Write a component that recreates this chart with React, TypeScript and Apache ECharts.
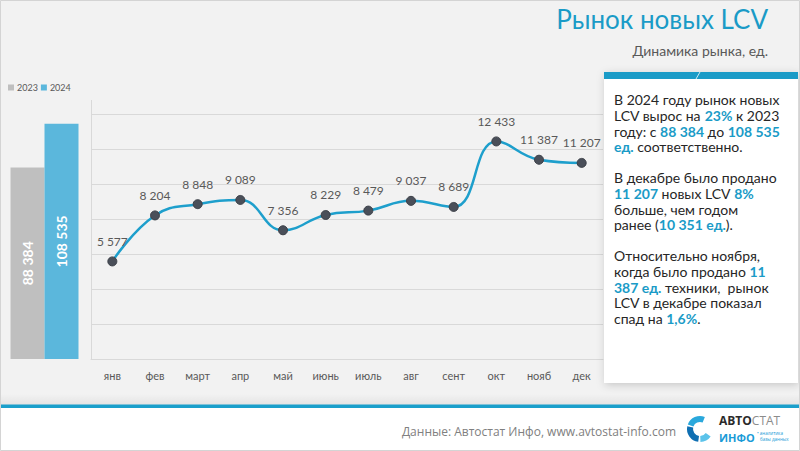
import React, { useEffect, useRef } from "react";
import * as echarts from "echarts";

const months = ["янв", "фев", "март", "апр", "май", "июнь", "июль", "авг", "сент", "окт", "нояб", "дек"];
const sales2024 = [5577, 8204, 8848, 9089, 7356, 8229, 8479, 9037, 8689, 12433, 11387, 11207];
const yearLabels = ["2023", "2024"];
const yearTotals = [88384, 108535];

const titleText = "Рынок новых LCV";
const subtitleText = "Динамика рынка, ед.";
const footerText = "Данные: Автостат Инфо, www.avtostat-info.com";
const para1 = [
  "В 2024 году рынок новых",
  "LCV вырос на {b|23%} к 2023",
  "году: с {b|88 384} до {b|108 535}",
  "{b|ед.} соответственно.",
];
const para2 = [
  "В декабре было продано",
  "{b|11 207} новых LCV {b|8%}",
  "больше, чем годом",
  "ранее ({b|10 351 ед.}).",
];
const para3 = [
  "Относительно ноября,",
  "когда было продано {b|11}",
  "{b|387 ед.} техники,  рынок",
  "LCV в декабре показал",
  "спад на {b|1,6%}.",
];

const fmt = (v: number) => String(v).replace(/\B(?=(\d{3})+(?!\d))/g, " ");

const BLUE = "#1a9bc7";
const FONT = "Lato, 'Open Sans', sans-serif";
const LOGO_FONT = "'Open Sans', sans-serif";

export default function App() {
  const ref = useRef<HTMLDivElement>(null);
  useEffect(() => {
    if (!ref.current) return;
    const chart = echarts.init(ref.current, null, { renderer: "svg" });
    const richB = { fill: BLUE, color: BLUE, fontWeight: "bold", fontSize: 14, fontFamily: FONT, lineHeight: 15.6 };
    const para = (lines: string[], y: number) => ({
      type: "text",
      x: 614,
      y,
      z: 60,
      style: {
        text: lines.join("\n"),
        fill: "#262626",
        fontSize: 14,
        fontFamily: FONT,
        lineHeight: 15.6,
        verticalAlign: "top",
        align: "left",
        rich: { b: richB },
      },
    });
    const barLabel = {
      show: true,
      position: "inside",
      rotate: 90,
      color: "#fff",
      fontWeight: "bold",
      fontSize: 14,
      fontFamily: FONT,
      formatter: (p: any) => fmt(p.value),
    };
    const option: any = {
      animation: false,
      backgroundColor: "#f2f2f2",
      legend: {
        data: yearLabels,
        left: 8,
        top: 83,
        padding: 0,
        itemWidth: 6,
        itemHeight: 6,
        itemGap: 3,
        icon: "rect",
        textStyle: { fontSize: 9, color: "#595959", fontFamily: FONT, padding: [0, 0, 0, -2] },
      },
      grid: [
        { left: 10, width: 69, top: 99, bottom: 92 },
        { left: 91, right: 197, top: 114, bottom: 92 },
      ],
      xAxis: [
        { type: "category", gridIndex: 0, data: ["Итого"], show: false },
        {
          type: "category",
          gridIndex: 1,
          data: months,
          axisLine: { lineStyle: { color: "#d9d9d9" } },
          axisTick: { show: false },
          axisLabel: { color: "#595959", fontSize: 11, fontFamily: FONT, margin: 11 },
        },
      ],
      yAxis: [
        { type: "value", gridIndex: 0, min: 0, max: 120000, show: false },
        {
          type: "value",
          gridIndex: 1,
          min: 0,
          max: 14000,
          interval: 2000,
          axisLabel: { show: false },
          axisLine: { show: false },
          axisTick: { show: false },
          splitLine: { lineStyle: { color: "#d9d9d9", width: 1 } },
        },
      ],
      series: [
        {
          name: yearLabels[0],
          type: "bar",
          xAxisIndex: 0,
          yAxisIndex: 0,
          data: [yearTotals[0]],
          barWidth: 34,
          barGap: "0%",
          itemStyle: { color: "#bfbfbf" },
          label: barLabel,
        },
        {
          name: yearLabels[1],
          type: "bar",
          xAxisIndex: 0,
          yAxisIndex: 0,
          data: [yearTotals[1]],
          barWidth: 34,
          barGap: "0%",
          itemStyle: { color: "#5bb7dc" },
          label: barLabel,
        },
        {
          name: "2024 по месяцам",
          type: "line",
          xAxisIndex: 1,
          yAxisIndex: 1,
          data: sales2024,
          smooth: 0.45,
          symbol: "circle",
          symbolSize: 9,
          lineStyle: { color: "#1e9fcc", width: 2.5 },
          itemStyle: { color: "#4a4f59", borderColor: "#3b3f47", borderWidth: 1 },
          label: {
            show: true,
            position: "top",
            distance: 9,
            color: "#595959",
            fontSize: 12,
            fontFamily: FONT,
            formatter: (p: any) => fmt(p.value),
          },
        },
      ],
      graphic: [
        {
          type: "rect",
          z: -1,
          shape: { x: 0, y: 394, width: 800, height: 11 },
          style: {
            fill: new echarts.graphic.LinearGradient(0, 0, 0, 1, [
              { offset: 0, color: "rgba(0,0,0,0)" },
              { offset: 1, color: "rgba(0,0,0,0.06)" },
            ]),
          },
        },
        { type: "rect", z: 1, shape: { x: 0, y: 404.5, width: 800, height: 3.5 }, style: { fill: "#1a9fcb" } },
        { type: "rect", z: 1, shape: { x: 0, y: 408, width: 800, height: 43 }, style: { fill: "#ffffff" } },
        { type: "line", z: 1, shape: { x1: 91.5, y1: 100, x2: 91.5, y2: 359 }, style: { stroke: "#d9d9d9", lineWidth: 1 } },
        {
          type: "text",
          z: 10,
          x: 768,
          y: 19,
          style: { text: titleText, fill: BLUE, fontSize: 26, fontFamily: FONT, align: "right", verticalAlign: "middle" },
        },
        {
          type: "text",
          z: 10,
          x: 768,
          y: 50,
          style: { text: subtitleText, fill: "#595959", fontSize: 14, fontFamily: FONT, align: "right", verticalAlign: "middle" },
        },
        {
          type: "rect",
          z: 50,
          shape: { x: 604, y: 72, width: 194, height: 311 },
          style: { fill: "#ffffff", shadowBlur: 8, shadowColor: "rgba(0,0,0,0.18)", shadowOffsetX: 1, shadowOffsetY: 2 },
        },
        { type: "rect", z: 55, shape: { x: 604, y: 72, width: 194, height: 7 }, style: { fill: BLUE } },
        { type: "line", z: 56, shape: { x1: 700, y1: 72, x2: 696, y2: 79 }, style: { stroke: "rgba(255,255,255,0.8)", lineWidth: 1 } },
        para(para1, 92),
        para(para2, 170),
        para(para3, 248),
        {
          type: "text",
          z: 10,
          x: 676,
          y: 431,
          style: { text: footerText, fill: "#808080", fontSize: 12, fontFamily: LOGO_FONT, align: "right", verticalAlign: "middle" },
        },
        {
          type: "sector",
          z: 10,
          shape: { cx: 700, cy: 429, r0: 7, r: 13, startAngle: (200 * Math.PI) / 180, endAngle: (292 * Math.PI) / 180 },
          style: { fill: "#2aa8dc" },
        },
        {
          type: "sector",
          z: 10,
          shape: { cx: 700, cy: 429, r0: 7, r: 13, startAngle: (98 * Math.PI) / 180, endAngle: (192 * Math.PI) / 180 },
          style: { fill: "#0f6fb2" },
        },
        {
          type: "sector",
          z: 10,
          shape: { cx: 700, cy: 429, r0: 7, r: 13, startAngle: (35 * Math.PI) / 180, endAngle: (88 * Math.PI) / 180 },
          style: { fill: "#5cc3ea" },
        },
        {
          type: "text",
          z: 10,
          x: 719,
          y: 420,
          style: {
            text: "{a|АВТО}{c|СТАТ}",
            verticalAlign: "middle",
            rich: {
              a: { fill: "#2b2b2b", color: "#2b2b2b", fontWeight: "bold", fontSize: 12, fontFamily: LOGO_FONT },
              c: { fill: "#8c8c8c", color: "#8c8c8c", fontSize: 12, fontFamily: LOGO_FONT },
            },
          },
        },
        {
          type: "text",
          z: 10,
          x: 719,
          y: 437,
          style: { text: "ИНФО", fill: "#1a9bd7", fontWeight: "bold", fontSize: 11, fontFamily: LOGO_FONT, verticalAlign: "middle" },
        },
        {
          type: "text",
          z: 10,
          x: 757,
          y: 433,
          style: { text: "• аналитика", fill: "#1a9bd7", fontSize: 4.5, fontFamily: LOGO_FONT, verticalAlign: "middle" },
        },
        {
          type: "text",
          z: 10,
          x: 760,
          y: 439,
          style: { text: "базы данных", fill: "#1a9bd7", fontSize: 4.5, fontFamily: LOGO_FONT, verticalAlign: "middle" },
        },
        { type: "rect", z: 100, shape: { x: 0.5, y: 0.5, width: 799, height: 450 }, style: { fill: "none", stroke: "#d4d4d4", lineWidth: 1 } },
      ],
    };
    chart.setOption(option);
    return () => chart.dispose();
  }, []);
  return <div ref={ref} style={{ width: 800, height: 451, position: "absolute", left: 0, top: 0 }} />;
}
